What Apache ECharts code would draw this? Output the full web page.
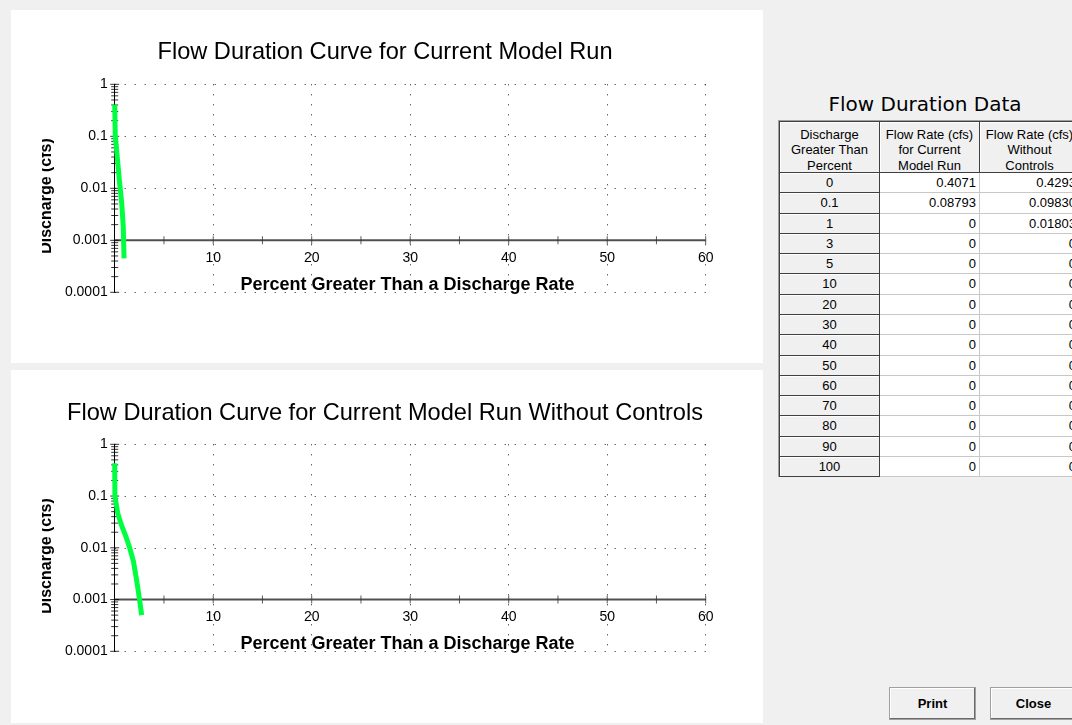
<!DOCTYPE html>
<html>
<head>
<meta charset="utf-8">
<script src="https://cdn.jsdelivr.net/npm/echarts@6/dist/echarts.min.js"></script>
<style>
  html, body { margin:0; padding:0; width:1072px; height:725px; overflow:hidden; background:#f0f0f0; font-family:"Liberation Sans", Arial, sans-serif; }
  .panel { position:absolute; background:#fff; }
  #chart { position:absolute; left:42px; top:0; width:730px; height:725px; }
  #tblTitle { position:absolute; left:780px; width:290px; top:92px; text-align:center; font-family:"DejaVu Sans", sans-serif; font-size:20px; color:#000; }
  #tbl { position:absolute; left:778px; top:120px; width:320px; height:356px; border-left:1px solid #a0a0a0; border-top:1px solid #a0a0a0; box-shadow: inset 1px 1px 0 #404040; }
  .cell { position:absolute; box-sizing:border-box; font-size:13px; color:#000; white-space:nowrap; overflow:hidden; }
  .fixed { background:#f0f0f0; border-right:1px solid #404040; border-bottom:1px solid #404040; box-shadow: inset 1px 1px 0 #fff; text-align:center; }
  .data { background:#fff; border-right:1px solid #c8c8c8; border-bottom:1px solid #c8c8c8; text-align:right; padding-right:3px; }
  .hdr { line-height:15.3px; padding-top:5px; }
  .btn { position:absolute; top:687px; width:87px; height:33px; box-sizing:border-box; background:#f0f0f0; border:1px solid #a0a0a0; box-shadow: inset -1px -1px 0 #696969, inset 1px 1px 0 #fff; font-weight:bold; font-size:13px; text-align:center; line-height:31px; color:#000; }
</style>
</head>
<body>
<div class="panel" style="left:11px;top:10px;width:752px;height:353px;"></div>
<div class="panel" style="left:11px;top:370px;width:752px;height:353px;"></div>
<div id="chart"></div>
<div id="tblTitle">Flow Duration Data</div>
<div id="tbl"></div>
<div class="btn" style="left:889px;">Print</div>
<div class="btn" style="left:990px;">Close</div>
<script>
// ---- Chart data ----
const chartTitles = ['Flow Duration Curve for Current Model Run', 'Flow Duration Curve for Current Model Run Without Controls'];
const xAxisName = 'Percent Greater Than a Discharge Rate';
const yAxisName = 'Discharge (cfs)';

// Curve: Current Model Run
const pctCurrent  = [0, 0.06, 0.26, 0.47, 0.71, 0.87, 0.95];
const flowCurrent = [0.4071, 0.1, 0.04, 0.0145, 0.0052, 0.0018, 0.00045];
// Curve: Current Model Run Without Controls
const pctWithout  = [0, 0.02, 0.3, 0.67, 1.13, 1.52, 1.9, 2.27, 2.52, 2.74];
const flowWithout = [0.4293, 0.1, 0.047, 0.028, 0.0166, 0.01, 0.0055, 0.0021, 0.001, 0.0005];

// Axis ticks
const xMajorTicks = [10, 20, 30, 40, 50, 60];
const xMinorTicks = [5, 15, 25, 35, 45, 55];
const xAxisCross = 0.001;
const yDecades = [0.0001, 0.001, 0.01, 0.1, 1];
const yMinorMultipliers = [2, 3, 4, 5, 6, 7, 8, 9];

// Table data
const tableHeaders = [['Discharge', 'Greater Than', 'Percent'], ['Flow Rate (cfs)', 'for Current', 'Model Run'], ['Flow Rate (cfs)', 'Without', 'Controls']];
const tablePercents = ['0', '0.1', '1', '3', '5', '10', '20', '30', '40', '50', '60', '70', '80', '90', '100'];
const tableFlowCurrent = [0.4071, 0.08793, 0, 0, 0, 0, 0, 0, 0, 0, 0, 0, 0, 0, 0];
const tableFlowWithout = [0.4293, 0.0983, 0.01803, 0, 0, 0, 0, 0, 0, 0, 0, 0, 0, 0, 0];

// ---- Table ----
(function () {
  const tbl = document.getElementById('tbl');
  const colLeft = [1, 101, 201];
  const colW = 100, hdrH = 51;
  function add(cls, left, top, w, h, html) {
    const d = document.createElement('div');
    d.className = 'cell ' + cls;
    d.style.cssText = 'left:' + left + 'px;top:' + top + 'px;width:' + w + 'px;height:' + h + 'px;';
    if (cls.indexOf('hdr') < 0) d.style.lineHeight = (h - 1) + 'px';
    d.innerHTML = html;
    tbl.appendChild(d);
  }
  tableHeaders.forEach((lines, c) => add('fixed hdr', colLeft[c], 1, colW, hdrH, lines.join('<br>')));
  const fmt = v => v === 0 ? '0' : Number(v).toPrecision(4);
  tablePercents.forEach((p, r) => {
    const top = Math.round(1 + hdrH + r * 20.29);
    const h = Math.round(1 + hdrH + (r + 1) * 20.29) - top;
    add('fixed', colLeft[0], top, colW, h, p);
    add('data', colLeft[1], top, colW, h, fmt(tableFlowCurrent[r]));
    add('data', colLeft[2], top, colW, h, fmt(tableFlowWithout[r]));
  });
})();

// ---- Charts ----
const FONT = '"Liberation Sans", Arial, sans-serif';
const chart = echarts.init(document.getElementById('chart'), null, { renderer: 'canvas' });
const grids = [
  { left: 72.7, top: 84.3, width: 591, height: 208 },
  { left: 72.7, top: 444.3, width: 591, height: 207 }
];
const curves = [
  pctCurrent.map((x, i) => [x, flowCurrent[i]]),
  pctWithout.map((x, i) => [x, flowWithout[i]])
];
const yMinorTicks = [];
yDecades.slice(0, -1).forEach(d => yMinorMultipliers.forEach(m => yMinorTicks.push(+(d * m).toPrecision(2))));

const option = {
  animation: false,
  backgroundColor: 'transparent',
  title: chartTitles.map((t, i) => ({
    text: t, left: 343, top: 40 + i * 361, textAlign: 'center', padding: 0,
    textStyle: { fontSize: 23.6, fontWeight: 'normal', color: '#000', fontFamily: FONT }
  })),
  grid: grids.map(g => Object.assign({ containLabel: false, outerBoundsMode: 'none' }, g)),
  xAxis: grids.map((g, i) => ({
    gridIndex: i, type: 'value', min: 0, max: 60, interval: 10,
    axisLine: { show: false }, axisTick: { show: false },
    splitLine: { show: true, lineStyle: { type: [1, 9], color: '#222', width: 1 } },
    axisLabel: { formatter: v => (v === 0 ? '' : String(v)), margin: -41, color: '#000', fontSize: 14, fontFamily: FONT }
  })),
  yAxis: grids.map((g, i) => ({
    gridIndex: i, type: 'log', logBase: 10, min: 0.0001, max: 1,
    axisLine: { show: true, lineStyle: { color: '#000', width: 1 } },
    axisTick: { show: false }, minorTick: { show: false },
    splitLine: { show: true, lineStyle: { type: [1, 9], color: '#222', width: 1 } },
    axisLabel: { formatter: v => String(parseFloat(Number(v).toPrecision(2))), margin: 7, color: '#000', fontSize: 14, fontFamily: FONT }
  })),
  graphic: [],
  series: []
};
grids.forEach((g, i) => {
  option.graphic.push({
    type: 'text', x: 5, y: 196 + i * 360, rotation: Math.PI / 2,
    style: { text: yAxisName, font: 'bold 16px ' + FONT, fill: '#000', align: 'center', verticalAlign: 'middle' }
  });
  option.graphic.push({
    type: 'text', x: 365.5, y: 285 + i * 359, z: 5,
    style: { text: xAxisName, font: 'bold 18px ' + FONT, fill: '#000', align: 'center', verticalAlign: 'middle' }
  });
  option.series.push({
    type: 'line', xAxisIndex: i, yAxisIndex: i, silent: true, symbol: 'none', z: 3,
    data: [[0, xAxisCross], [60, xAxisCross]],
    lineStyle: { color: '#505050', width: 2 }
  });
  option.series.push({
    type: 'scatter', xAxisIndex: i, yAxisIndex: i, silent: true, clip: false, z: 4,
    symbol: 'rect', symbolSize: [1, 8],
    data: xMajorTicks.concat(xMinorTicks).map(x => [x, xAxisCross]),
    itemStyle: { color: '#333' }
  });
  option.series.push({
    type: 'scatter', xAxisIndex: i, yAxisIndex: i, silent: true, clip: false, z: 4,
    symbol: 'rect', symbolSize: [9, 1],
    data: yDecades.map(v => [0, v]),
    itemStyle: { color: '#000' }
  });
  option.series.push({
    type: 'scatter', xAxisIndex: i, yAxisIndex: i, silent: true, clip: false, z: 4,
    symbol: 'rect', symbolSize: [7, 1],
    data: yMinorTicks.map(v => [0, v]),
    itemStyle: { color: '#000' }
  });
  option.series.push({
    type: 'line', xAxisIndex: i, yAxisIndex: i, silent: true, symbol: 'none', z: 10, clip: false,
    data: curves[i],
    lineStyle: { color: '#00ff40', width: 5, cap: 'butt', join: 'miter' }
  });
});
chart.setOption(option);
</script>
</body>
</html>
